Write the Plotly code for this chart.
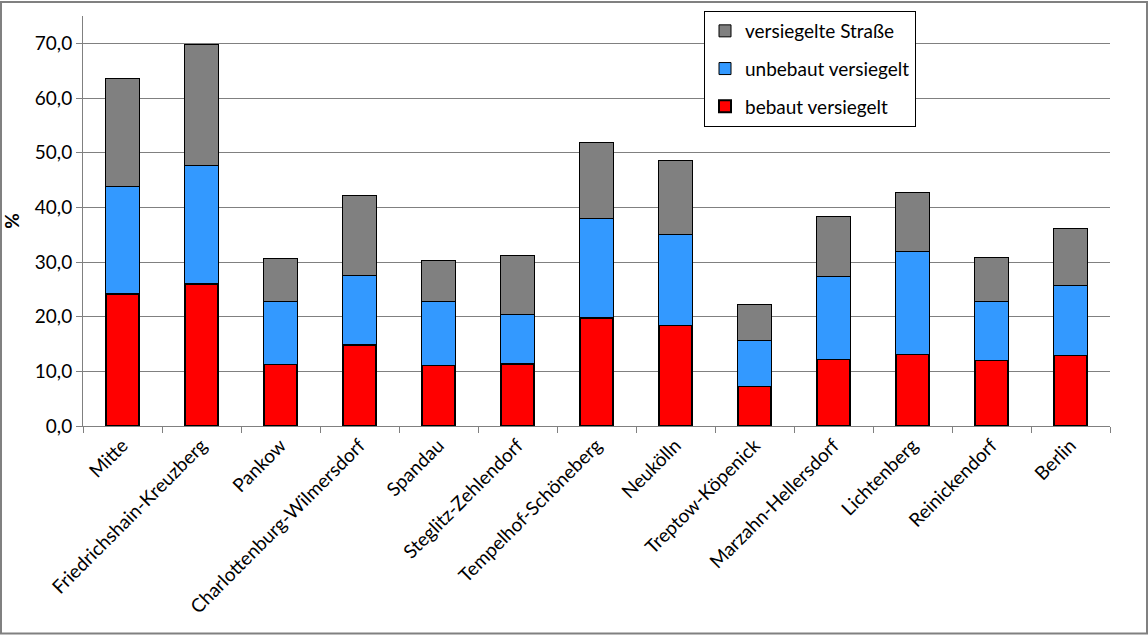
import plotly.graph_objects as go

categories = ["Mitte", "Friedrichshain-Kreuzberg", "Pankow", "Charlottenburg-Wilmersdorf",
              "Spandau", "Steglitz-Zehlendorf", "Tempelhof-Schöneberg", "Neukölln",
              "Treptow-Köpenick", "Marzahn-Hellersdorf", "Lichtenberg", "Reinickendorf", "Berlin"]
bebaut = [24.2, 26.0, 11.3, 14.9, 11.1, 11.4, 19.8, 18.4, 7.3, 12.2, 13.1, 12.0, 12.9]
unbebaut = [19.7, 21.6, 11.4, 12.6, 11.7, 9.0, 18.1, 16.6, 8.3, 15.1, 18.8, 10.8, 12.8]
strasse = [19.7, 22.2, 7.9, 14.6, 7.4, 10.7, 14.0, 13.5, 6.6, 11.1, 10.9, 8.0, 10.4]
y_ticks = [0, 10, 20, 30, 40, 50, 60, 70]

W, H = 1148, 635
ml, mr, mt, mb = 83, 38, 15, 209
pw, ph = W - ml - mr, H - mt - mb

fig = go.Figure()
series = [("bebaut versiegelt", bebaut, "#FF0000", 2, 3),
          ("unbebaut versiegelt", unbebaut, "#3399FF", 1, 2),
          ("versiegelte Straße", strasse, "#808080", 1, 1)]
for name, vals, col, lw, rank in series:
    fig.add_trace(go.Bar(x=categories, y=vals, name=name, legendgroup=name, legendrank=rank,
                         marker=dict(color=col, line=dict(color="black", width=lw)),
                         width=0.42))

font_family = "Lato, 'Open Sans', sans-serif"
fig.update_layout(
    width=W, height=H,
    barmode="stack",
    separators=",.",
    plot_bgcolor="white", paper_bgcolor="white",
    margin=dict(l=ml, r=mr, t=mt, b=mb),
    font=dict(family=font_family, color="black"),
    xaxis=dict(type="category", showgrid=False, showline=True, linecolor="#808080", linewidth=1,
               ticks="outside", tickson="boundaries", ticklen=6, tickcolor="#808080",
               tickangle=-45, tickfont=dict(size=19, color="black"), automargin=False),
    yaxis=dict(range=[0, 75], tickvals=y_ticks, tickformat=".1f", showgrid=True,
               gridcolor="#808080", gridwidth=1, showline=True, linecolor="#808080",
               ticks="outside", ticklen=6, tickcolor="#808080", zeroline=False,
               tickfont=dict(size=19, color="black"), automargin=False,
               title=dict(text="<b>%</b>", font=dict(size=19), standoff=14)),
    legend=dict(x=(704 - ml) / pw, y=(H - mb - 11) / ph, xanchor="left", yanchor="top",
                bordercolor="black", borderwidth=1, bgcolor="white",
                traceorder="grouped", tracegroupgap=10,
                font=dict(size=19, color="black"), itemwidth=30),
    showlegend=True,
)
fig.add_shape(type="rect", xref="paper", yref="paper",
              x0=(1 - ml) / pw, x1=(W - 1 - ml) / pw,
              y0=(H - mb - (H - 1)) / ph, y1=(H - mb - 1) / ph,
              line=dict(color="#808080", width=2), fillcolor="rgba(0,0,0,0)", layer="above")
fig.write_html("out.html")
